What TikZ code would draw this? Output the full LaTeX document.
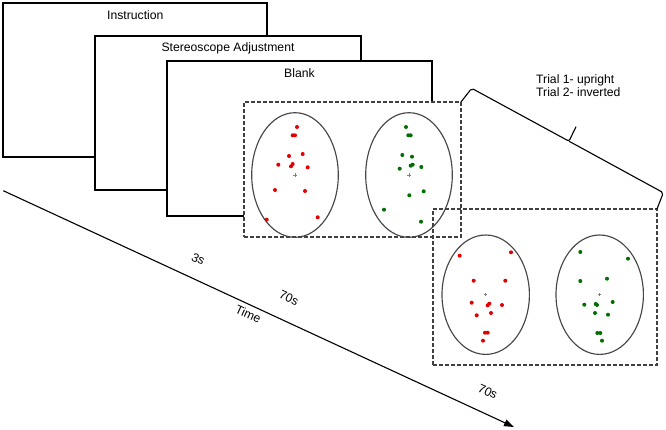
\documentclass[tikz,border=0pt]{standalone}
\usepackage{fontspec}
\setmainfont{Liberation Sans}
\usetikzlibrary{arrows.meta}
\definecolor{dotred}{RGB}{228,0,0}
\definecolor{dotgreen}{RGB}{0,110,0}
\begin{document}
\begin{tikzpicture}[x=1pt,y=-1pt,
  frame/.style={draw=black, line width=2.4pt, fill=white, rectangle, anchor=north west, inner sep=0pt, outer sep=0pt},
  dbox/.style={draw=black!75, line width=1.4pt, dash pattern=on 4pt off 2pt, rectangle, anchor=north west, inner sep=0pt, outer sep=0pt},
  lbl/.style={font=\fontsize{12.2}{13.7}\selectfont, inner sep=0pt},
  eye/.style={draw=black!72, line width=1.15pt},
  cross/.style={draw=black!50, line width=0.6pt},
  axis/.style={draw=black, line width=1.1pt},
]
\useasboundingbox (0,0) rectangle (666,429);

% stacked screens
\node[frame, minimum width=264pt, minimum height=154pt] (instr) at (3,3) {};
\node[lbl, anchor=base] (tinstr) at (135.3,19.3) {Instruction};
\node[frame, minimum width=266pt, minimum height=154pt] (stereo) at (95,36) {};
\node[lbl, anchor=base] (tstereo) at (228,51.7) {Stereoscope Adjustment};
\node[frame, minimum width=265pt, minimum height=155pt] (blank) at (167,61) {};
\node[lbl, anchor=base] (tblank) at (299.5,77.3) {Blank};

% first stimulus display
\node[dbox, fill=white, minimum width=217pt, minimum height=135pt] (r1) at (244,102) {};
\draw[eye] (295,175) ellipse [x radius=43.3pt, y radius=62.3pt];
\draw[eye] (409,175) ellipse [x radius=43.3pt, y radius=62.3pt];
\draw[cross] (295,175) +(-1.6,0) -- +(1.6,0) (295,175) +(0,-1.6) -- +(0,1.6);
\draw[cross] (409,175) +(-1.6,0) -- +(1.6,0) (409,175) +(0,-1.6) -- +(0,1.6);
\foreach \p in {(297,127),(292.7,135.3),(295,135.3),(289,156),(302.7,154),(278.3,164.7),(292.7,164),(291,166.3),(307.7,167.3),(275,190),(305,191),(266.7,219.7),(317.7,217.3)}
  \fill[dotred] \p circle[radius=2pt];
\foreach \p in {(406,127),(408.3,135.3),(410.7,135.3),(402.3,155),(412,156.7),(399.7,168.7),(410.7,165.7),(412.7,164.7),(421.3,167),(423.7,191.3),(409.3,195.3),(384,209.7),(421,221.7)}
  \fill[dotgreen] \p circle[radius=2pt];

% second stimulus display
\node[dbox, minimum width=224pt, minimum height=156pt] (r2) at (433,209) {};
\draw[eye] (485.7,294.7) ellipse [x radius=43.7pt, y radius=59.7pt];
\draw[eye] (599.7,294.7) ellipse [x radius=43.7pt, y radius=59.7pt];
\draw[cross] (485.7,294.7) +(-1.6,0) -- +(1.6,0) (485.7,294.7) +(0,-1.6) -- +(0,1.6);
\draw[cross] (599.7,294.7) +(-1.6,0) -- +(1.6,0) (599.7,294.7) +(0,-1.6) -- +(0,1.6);
\foreach \p in {(459.7,255.7),(511,252.3),(473.7,280.7),(505.3,280.7),(471.7,302.7),(487.7,305.3),(489.3,303.7),(502,305),(476.7,315.3),(491,313),(485,332.7),(487.7,332.7),(483,340.7)}
  \fill[dotred] \p circle[radius=2pt];
\foreach \p in {(580.3,252),(628,258.7),(580.3,281),(607,278.7),(612.7,302),(584.3,304.7),(595.7,304),(597,305),(595,313),(608,314.7),(597.3,333),(600.3,333),(602,340.7)}
  \fill[dotgreen] \p circle[radius=2pt];

% brace
\coordinate (bcorner1) at (471.7,88.3);
\coordinate (bbase) at (569,141.2);
\coordinate (btip) at (576,126.7);
\coordinate (bcorner2) at (663.3,192.7);
\draw[axis, rounded corners=2pt] (r1.north east) -- (bcorner1) -- (bbase) -- (btip);
\draw[axis, rounded corners=2pt] (bbase) -- (bcorner2) -- (r2.north east);
\node[lbl, anchor=base west, align=left] (trials) at (536,96.7) {Trial 1- upright\\Trial 2- inverted};

% time axis
\coordinate (t0) at (3.3,190.7);
\coordinate (t1) at (514,427);
\draw[axis, -{Triangle[length=10pt,width=7pt]}] (t0) -- (t1);
\node[lbl, rotate=-24.8] (l3s) at (198.3,259) {3s};
\node[lbl, rotate=-24.8] (l70a) at (289,298) {70s};
\node[lbl, rotate=-24.8] (ltime) at (248.3,313.7) {Time};
\node[lbl, rotate=-24.8] (l70b) at (487.8,391.5) {70s};
\end{tikzpicture}
\end{document}
